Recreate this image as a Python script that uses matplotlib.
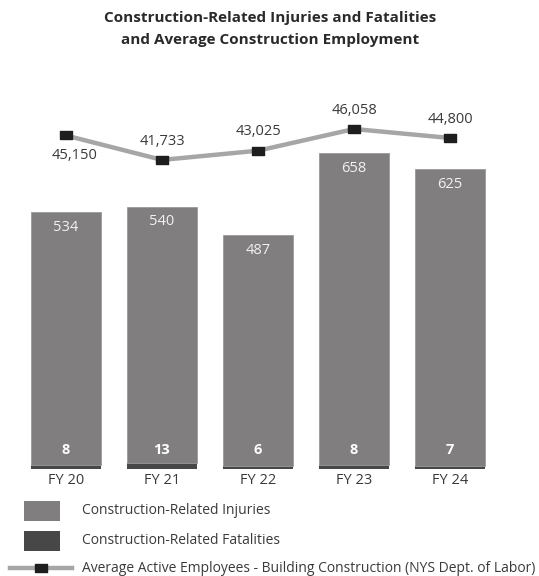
import matplotlib.pyplot as plt
from matplotlib.patches import Rectangle
from matplotlib.lines import Line2D

plt.rcParams['font.family'] = ['Open Sans', 'DejaVu Sans']

years = ['FY 20', 'FY 21', 'FY 22', 'FY 23', 'FY 24']
injuries = [534, 540, 487, 658, 625]
fatalities = [8, 13, 6, 8, 7]
employees = [45150, 41733, 43025, 46058, 44800]

inj_color = '#807e7f'
fat_color = '#474747'
line_color = '#a6a6a6'
text_color = '#3a3a3a'

# wide rectangular marker like the original
rect_marker = [(-1, -0.65), (1, -0.65), (1, 0.65), (-1, 0.65), (-1, -0.65)]

W, H = 539, 576
fig = plt.figure(figsize=(W / 100, H / 100), dpi=100)

# main axes: baseline at y=469px, top at 100px
ax = fig.add_axes([18 / W, 107 / H, 480 / W, 369 / H])
x = range(len(years))
ax.bar(x, fatalities, width=0.73, color=fat_color, linewidth=0)
ax.bar(x, injuries, width=0.73, bottom=fatalities, color=inj_color,
       edgecolor='#9a9a9a', linewidth=0.6)
ax.set_xlim(-0.5, 4.5)
ax.set_ylim(0, 777.7)
for i in x:
    top = injuries[i] + fatalities[i]
    ax.annotate(str(injuries[i]), (i, top), xytext=(0, -11), textcoords='offset points',
                ha='center', va='center', color='#f2f2f2', fontsize=10.5)
    ax.annotate(str(fatalities[i]), (i, 0), xytext=(0, 13.5), textcoords='offset points',
                ha='center', va='center', color='white', fontsize=10.5, fontweight='bold')
ax.set_xticks(list(x))
ax.set_xticklabels(years, fontsize=10.5, color=text_color)
ax.tick_params(axis='x', length=0, pad=3)
ax.set_yticks([])
for s in ax.spines.values():
    s.set_visible(False)

# employment line on its own scale
ax2 = ax.twinx()
ax2.plot(list(x), employees, color=line_color, linewidth=3.2, zorder=2)
ax2.plot(list(x), employees, linestyle='none', marker=rect_marker, markersize=8,
         markerfacecolor='#1e1e1e', markeredgecolor='#1e1e1e', zorder=3)
ax2.set_ylim(-1494, 50114)
ax2.set_yticks([])
for s in ax2.spines.values():
    s.set_visible(False)
for i in x:
    if i == 0:
        off = (6.5, -14.5)
    else:
        off = (0, 13.5)
    ax2.annotate(f'{employees[i]:,}', (i, employees[i]), xytext=off, textcoords='offset points',
                 ha='center', va='center', color=text_color, fontsize=10.5)

fig.text(270 / W, 1 - 18 / H, 'Construction-Related Injuries and Fatalities',
         ha='center', va='center', fontsize=11, fontweight='bold', color='#2a2a2a')
fig.text(270 / W, 1 - 40 / H, 'and Average Construction Employment',
         ha='center', va='center', fontsize=11, fontweight='bold', color='#2a2a2a')

# legend drawn in pixel space
lg = fig.add_axes([0, 0, 1, 86 / H])
lg.set_xlim(0, W)
lg.set_ylim(576, 490)
lg.axis('off')
lg.add_patch(Rectangle((24, 501), 36, 20, color=inj_color, linewidth=0))
lg.add_patch(Rectangle((24, 531), 36, 20, color=fat_color, linewidth=0))
lg.add_line(Line2D([10, 72], [568, 568], color=line_color, linewidth=3.2))
lg.add_line(Line2D([41], [568], marker=rect_marker, markersize=8, color='#1e1e1e'))
labels = ['Construction-Related Injuries', 'Construction-Related Fatalities',
          'Average Active Employees - Building Construction (NYS Dept. of Labor)']
for lab, yy in zip(labels, [511, 541, 568]):
    lg.text(82, yy, lab, ha='left', va='center', fontsize=10, color=text_color)

fig.savefig('out.png', dpi=100)
